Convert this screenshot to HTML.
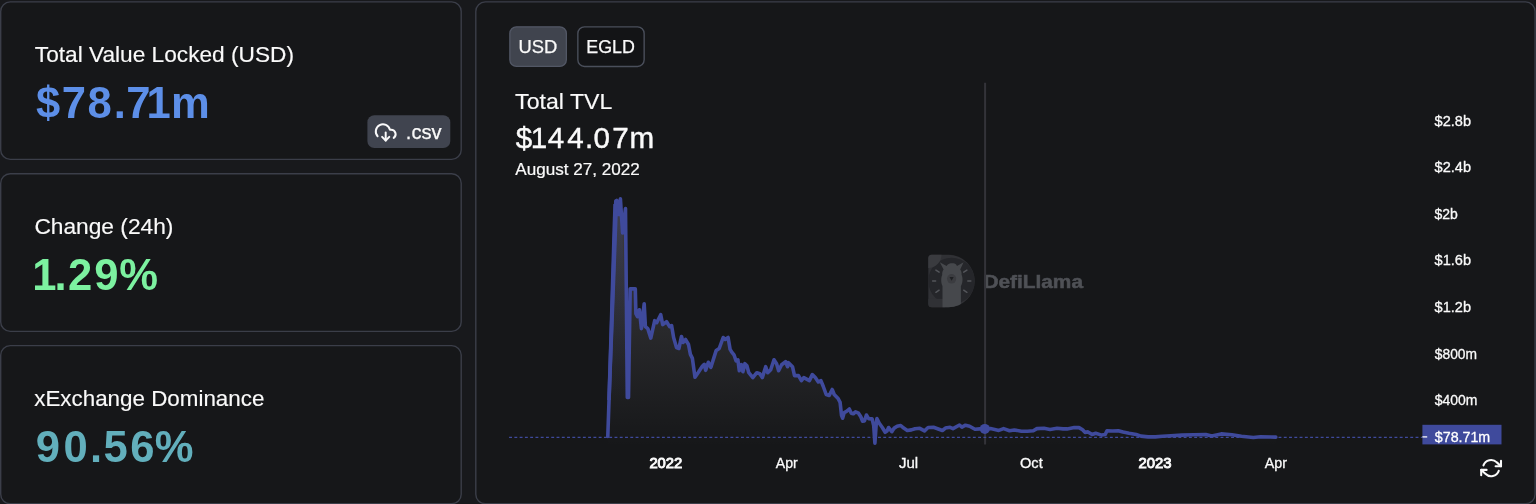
<!DOCTYPE html>
<html lang="en"><head><meta charset="utf-8"><title>xExchange - DefiLlama</title>
<style>
html,body{margin:0;padding:0;background:#18191c;}
body{width:1536px;height:504px;overflow:hidden;font-family:"Liberation Sans",Arial,sans-serif;}
svg{display:block;will-change:transform;}
</style></head><body>
<svg width="1536" height="504" viewBox="0 0 1536 504">
<defs>
<linearGradient id="ag" gradientUnits="userSpaceOnUse" x1="0" y1="83" x2="0" y2="447">
<stop offset="0" stop-color="#f7eefa" stop-opacity="0.26"/>
<stop offset="1" stop-color="#f7eefa" stop-opacity="0.0"/>
</linearGradient>
<linearGradient id="tg" gradientUnits="userSpaceOnUse" x1="0" y1="214" x2="0" y2="400"><stop offset="0" stop-color="#4452c8" stop-opacity="0.12"/><stop offset="1" stop-color="#4452c8" stop-opacity="0"/></linearGradient>
</defs>
<rect width="1536" height="504" fill="#18191c"/>
<rect x="0.7" y="1.9" width="460.5" height="157.5" rx="9.5" ry="9.5" fill="#161719" stroke="#3b3e49" stroke-width="1.4"/>
<rect x="0.7" y="173.7" width="460.5" height="157.7" rx="9.5" ry="9.5" fill="#161719" stroke="#3b3e49" stroke-width="1.4"/>
<rect x="0.7" y="345.6" width="460.5" height="158.1" rx="9.5" ry="9.5" fill="#161719" stroke="#3b3e49" stroke-width="1.4"/>
<rect x="475.8" y="1.9" width="1059.3" height="501.8" rx="9.5" ry="9.5" fill="#161719" stroke="#3b3e49" stroke-width="1.4"/>
<g font-family="Liberation Sans, Arial, sans-serif">
<rect x="367.4" y="115.2" width="82.9" height="32.9" rx="7" fill="#40444f"/>
<g transform="translate(374.9,121.6) scale(0.9)" fill="none" stroke="#fafafa" stroke-width="2.2" stroke-linecap="round" stroke-linejoin="round"><polyline points="8 17 12 21 16 17"/><line x1="12" y1="12" x2="12" y2="21"/><path d="M20.88 18.09A5 5 0 0 0 18 9h-1.26A8 8 0 1 0 3 16.29"/></g>
<rect x="509.85" y="26.85" width="56.5" height="39.6" rx="6.6" fill="#40444e" stroke="#525765" stroke-width="1.3"/>
<rect x="577.85" y="26.85" width="66.3" height="39.6" rx="6.6" fill="#131416" stroke="#4a4f5b" stroke-width="1.4"/>
<text x="34.8" y="61.5" font-size="21.8" font-weight="400" fill="#fafafa" textLength="259.2" lengthAdjust="spacingAndGlyphs" stroke="#fafafa" stroke-width="0.15">Total Value Locked (USD)</text>
<text x="35.9 61.8 87.55 113.86 126.2 146.51 170.88" y="117.7" font-size="43.6" font-weight="700" fill="#5d8fe8" >$78.71m</text>
<text x="34.4" y="233.7" font-size="21.8" font-weight="400" fill="#fafafa" textLength="139.0" lengthAdjust="spacingAndGlyphs" stroke="#fafafa" stroke-width="0.15">Change (24h)</text>
<text x="32.2 54.46 67.94 94.33 119.25" y="289.9" font-size="43.6" font-weight="700" fill="#7cf1a0" >1.29%</text>
<text x="34.2" y="405.9" font-size="21.8" font-weight="400" fill="#fafafa" textLength="230.2" lengthAdjust="spacingAndGlyphs" stroke="#fafafa" stroke-width="0.15">xExchange Dominance</text>
<text x="35.83 63.51 90.06 103.56 130.17 154.75" y="462.2" font-size="43.6" font-weight="700" fill="#62afbc" >90.56%</text>
<text x="405.8" y="138.6" font-size="19.6" font-weight="400" fill="#fafafa" textLength="35.8" lengthAdjust="spacingAndGlyphs" stroke="#fafafa" stroke-width="0.25">.csv</text>
<text x="518.6" y="53.3" font-size="18.7" font-weight="400" fill="#fafafa" textLength="38.8" lengthAdjust="spacingAndGlyphs" stroke="#fafafa" stroke-width="0.25">USD</text>
<text x="586.3" y="53.3" font-size="18.7" font-weight="400" fill="#fafafa" textLength="48.6" lengthAdjust="spacingAndGlyphs" stroke="#fafafa" stroke-width="0.25">EGLD</text>
<text x="515.1" y="109.0" font-size="22" font-weight="400" fill="#fafafa" textLength="97.2" lengthAdjust="spacingAndGlyphs" stroke="#fafafa" stroke-width="0.15">Total TVL</text>
<text x="515.85 530.69 547.79 567.16 584.91 593.62 612.3 629.61" y="147.8" font-size="29.6" font-weight="400" fill="#fafafa" stroke="#fafafa" stroke-width="0.4">$144.07m</text>
<text x="515.3" y="175.1" font-size="15.9" font-weight="400" fill="#fafafa" textLength="124.4" lengthAdjust="spacingAndGlyphs" stroke="#fafafa" stroke-width="0.2">August 27, 2022</text>
</g>
<g id="wm">
<clipPath id="dclip"><path d="M931.8,254.7 H948.5 A26.25,26.25 0 0 1 948.5,307.2 H931.8 A3.5,3.5 0 0 1 928.3,303.7 V258.2 A3.5,3.5 0 0 1 931.8,254.7 Z"/></clipPath>
<path d="M931.8,254.7 H948.5 A26.25,26.25 0 0 1 948.5,307.2 H931.8 A3.5,3.5 0 0 1 928.3,303.7 V258.2 A3.5,3.5 0 0 1 931.8,254.7 Z" fill="#303135"/>
<g clip-path="url(#dclip)">
<circle cx="951.6" cy="281" r="23.3" fill="#25262a"/>
<circle cx="928.3" cy="254.7" r="13.2" fill="#3a3b3f"/>
<rect x="927" y="298.8" width="18" height="10" fill="#303135"/>
<path d="M942.5,308 V286 C940.8,283 940.9,277.5 942.2,275 C942,272.5 942.6,271 943.6,269.6 L939.8,262.3 L946.6,266 C948,263.6 950,263.2 952.2,263.2 C954.4,263.2 956,263.6 957,266 L963.6,262.3 L960.2,269.6 C961.2,271 961.8,272.5 961.6,275 C962.9,277.5 963,283 960.9,286 V308 Z" fill="#46484c"/>
<ellipse cx="951.6" cy="278.8" rx="4.6" ry="4.8" fill="#3b3c40"/>
<path d="M949.5,277 H953.7 L951.6,280.8 Z" fill="#1f2023"/>
<g stroke="#53555a" stroke-width="1.5" stroke-linecap="round">
<line x1="935.9" y1="270.1" x2="939.1" y2="272.2"/><line x1="932.6" y1="280.9" x2="935.6" y2="280.9"/><line x1="935.9" y1="292.3" x2="939.1" y2="290.2"/>
<line x1="966.9" y1="270.1" x2="963.7" y2="272.2"/><line x1="970.8" y1="280.9" x2="967.8" y2="280.9"/><line x1="966.9" y1="292.3" x2="963.7" y2="290.2"/>
</g>
</g>
<text x="983.4" y="288.4" font-family="Liberation Sans, Arial, sans-serif" font-weight="700" font-size="17.7" fill="#4f5156" stroke="#4f5156" stroke-width="0.5" textLength="99.6" lengthAdjust="spacingAndGlyphs">DefiLlama</text>
</g>
<line x1="985.1" y1="82.7" x2="985.1" y2="444.6" stroke="#333339" stroke-width="2"/>
<path d="M607.8,436.5 L615.8,201.0 L616.6,200.5 L617.3,214.5 L618.3,201.5 L619.5,214.5 L620.4,198.8 L622.6,233.0 L625.5,208.5 L627.3,397.5 L628.5,397.5 L630.2,288.9 L635.3,288.9 L635.9,313.7 L637.5,316.7 L639.4,309.8 L641.4,328.6 L644.2,303.8 L645.4,326.6 L647.8,328.6 L650.8,338.1 L654.7,320.7 L656.7,322.7 L660.7,314.7 L662.7,324.6 L666.6,321.7 L669.6,326.6 L671.6,325.6 L673.6,337.5 L676.5,347.5 L678.9,348.5 L681.5,336.5 L683.1,342.5 L685.5,339.5 L688.5,344.5 L690.4,354.4 L692.4,358.4 L695.0,377.2 L698.4,372.3 L702.3,366.3 L704.3,364.3 L705.7,370.3 L708.3,362.3 L710.9,367.3 L716.2,350.4 L719.2,348.5 L723.2,337.5 L725.2,339.5 L728.1,337.5 L730.1,349.4 L731.6,351.8 L734.0,354.8 L736.0,360.8 L737.9,359.8 L739.3,370.7 L741.5,364.7 L742.9,371.7 L744.9,363.7 L746.9,365.7 L748.8,372.7 L752.8,377.6 L756.8,372.7 L759.8,373.7 L762.3,377.6 L765.7,366.7 L767.7,372.7 L770.7,369.7 L774.0,359.8 L776.6,363.7 L778.6,370.7 L781.6,364.7 L785.6,361.7 L787.5,366.7 L788.5,362.7 L792.5,366.7 L794.5,375.6 L798.5,375.6 L801.4,380.6 L803.8,377.6 L809.4,380.6 L812.3,374.6 L815.3,377.6 L818.3,382.0 L820.9,380.6 L823.3,386.5 L826.2,394.5 L829.2,395.5 L832.2,389.5 L834.2,394.5 L838.1,398.5 L840.1,402.4 L841.5,415.3 L842.6,418.2 L844.2,412.6 L846.5,411.4 L849.3,409.0 L851.3,413.2 L853.3,413.8 L855.5,411.8 L858.5,413.2 L860.8,416.8 L862.6,421.2 L864.4,421.0 L866.4,415.0 L868.6,418.6 L872.1,418.9 L873.7,425.7 L874.9,443.2 L876.1,425.7 L876.9,418.6 L879.3,423.3 L882.3,427.5 L885.2,432.3 L887.0,431.1 L888.6,427.5 L891.8,431.7 L894.2,428.1 L897.1,426.3 L900.7,425.5 L903.7,428.1 L907.3,430.5 L911.4,429.9 L915.0,428.7 L919.8,428.3 L924.5,430.8 L928.1,427.5 L933.5,427.3 L937.6,428.7 L942.4,430.5 L945.4,428.1 L950.1,427.3 L953.0,428.6 L959.5,425.0 L961.9,427.1 L965.5,425.2 L969.6,426.2 L975.0,429.2 L979.8,428.9 L984.8,428.9 L990.5,428.6 L998.8,430.4 L1003.6,428.6 L1009.5,430.7 L1014.3,430.0 L1021.4,431.2 L1027.4,431.2 L1033.3,430.7 L1036.9,428.6 L1044.0,428.3 L1050.0,429.5 L1057.1,428.3 L1063.1,428.9 L1067.1,428.9 L1074.3,427.6 L1079.0,427.6 L1082.6,429.8 L1085.0,432.4 L1088.0,431.9 L1092.1,434.5 L1095.7,433.3 L1101.7,435.1 L1105.2,434.5 L1107.0,430.7 L1112.4,431.0 L1118.3,430.7 L1123.1,432.1 L1129.0,433.3 L1136.2,434.5 L1141.0,436.1 L1148.1,436.9 L1155.2,436.9 L1162.4,436.3 L1170.7,435.7 L1181.9,435.1 L1193.8,434.8 L1205.7,434.5 L1211.7,436.0 L1221.2,433.9 L1231.9,434.8 L1241.4,436.3 L1253.3,437.5 L1260.5,436.7 L1275.8,437.1 L1275.8,447 L607.8,447 Z" fill="url(#ag)"/>
<path d="M616.5,214 L622,214 L627.3,398 L627.3,436 L608.5,436 Z" fill="url(#tg)"/>
<line x1="509.1" y1="437.4" x2="1422.4" y2="437.4" stroke="#3f4a9c" stroke-width="1.3" stroke-dasharray="2.9 2.37"/>
<path d="M607.8,436.5 L615.8,201.0 L616.6,200.5 L617.3,214.5 L618.3,201.5 L619.5,214.5 L620.4,198.8 L622.6,233.0 L625.5,208.5 L627.3,397.5 L628.5,397.5 L630.2,288.9 L635.3,288.9 L635.9,313.7 L637.5,316.7 L639.4,309.8 L641.4,328.6 L644.2,303.8 L645.4,326.6 L647.8,328.6 L650.8,338.1 L654.7,320.7 L656.7,322.7 L660.7,314.7 L662.7,324.6 L666.6,321.7 L669.6,326.6 L671.6,325.6 L673.6,337.5 L676.5,347.5 L678.9,348.5 L681.5,336.5 L683.1,342.5 L685.5,339.5 L688.5,344.5 L690.4,354.4 L692.4,358.4 L695.0,377.2 L698.4,372.3 L702.3,366.3 L704.3,364.3 L705.7,370.3 L708.3,362.3 L710.9,367.3 L716.2,350.4 L719.2,348.5 L723.2,337.5 L725.2,339.5 L728.1,337.5 L730.1,349.4 L731.6,351.8 L734.0,354.8 L736.0,360.8 L737.9,359.8 L739.3,370.7 L741.5,364.7 L742.9,371.7 L744.9,363.7 L746.9,365.7 L748.8,372.7 L752.8,377.6 L756.8,372.7 L759.8,373.7 L762.3,377.6 L765.7,366.7 L767.7,372.7 L770.7,369.7 L774.0,359.8 L776.6,363.7 L778.6,370.7 L781.6,364.7 L785.6,361.7 L787.5,366.7 L788.5,362.7 L792.5,366.7 L794.5,375.6 L798.5,375.6 L801.4,380.6 L803.8,377.6 L809.4,380.6 L812.3,374.6 L815.3,377.6 L818.3,382.0 L820.9,380.6 L823.3,386.5 L826.2,394.5 L829.2,395.5 L832.2,389.5 L834.2,394.5 L838.1,398.5 L840.1,402.4 L841.5,415.3 L842.6,418.2 L844.2,412.6 L846.5,411.4 L849.3,409.0 L851.3,413.2 L853.3,413.8 L855.5,411.8 L858.5,413.2 L860.8,416.8 L862.6,421.2 L864.4,421.0 L866.4,415.0 L868.6,418.6 L872.1,418.9 L873.7,425.7 L874.9,443.2 L876.1,425.7 L876.9,418.6 L879.3,423.3 L882.3,427.5 L885.2,432.3 L887.0,431.1 L888.6,427.5 L891.8,431.7 L894.2,428.1 L897.1,426.3 L900.7,425.5 L903.7,428.1 L907.3,430.5 L911.4,429.9 L915.0,428.7 L919.8,428.3 L924.5,430.8 L928.1,427.5 L933.5,427.3 L937.6,428.7 L942.4,430.5 L945.4,428.1 L950.1,427.3 L953.0,428.6 L959.5,425.0 L961.9,427.1 L965.5,425.2 L969.6,426.2 L975.0,429.2 L979.8,428.9 L984.8,428.9 L990.5,428.6 L998.8,430.4 L1003.6,428.6 L1009.5,430.7 L1014.3,430.0 L1021.4,431.2 L1027.4,431.2 L1033.3,430.7 L1036.9,428.6 L1044.0,428.3 L1050.0,429.5 L1057.1,428.3 L1063.1,428.9 L1067.1,428.9 L1074.3,427.6 L1079.0,427.6 L1082.6,429.8 L1085.0,432.4 L1088.0,431.9 L1092.1,434.5 L1095.7,433.3 L1101.7,435.1 L1105.2,434.5 L1107.0,430.7 L1112.4,431.0 L1118.3,430.7 L1123.1,432.1 L1129.0,433.3 L1136.2,434.5 L1141.0,436.1 L1148.1,436.9 L1155.2,436.9 L1162.4,436.3 L1170.7,435.7 L1181.9,435.1 L1193.8,434.8 L1205.7,434.5 L1211.7,436.0 L1221.2,433.9 L1231.9,434.8 L1241.4,436.3 L1253.3,437.5 L1260.5,436.7 L1275.8,437.1" fill="none" stroke="#3f4a9c" stroke-width="3.6" stroke-linejoin="round" stroke-linecap="round"/>
<path d="M613.3,204.0 L612.4,230.0 L611.5,260.0 L610.3,300.0 L608.8,350.0 L607.2,400.0 L610.8,400.0 L612.7,350.0 L614.6,300.0 L616.1,260.0 L617.2,230.0 L618.1,204.0 Z" fill="#3f4a9c"/>
<circle cx="984.8" cy="428.9" r="5" fill="#3f4a9c"/>
<g font-family="Liberation Sans, Arial, sans-serif">
<rect x="1422.4" y="424.8" width="79.1" height="19.6" fill="#3f4a9c"/>
<line x1="1422.4" y1="436.9" x2="1427.2" y2="436.9" stroke="#fafafa" stroke-width="1.3"/>
<text x="1434.6" y="125.6" font-size="14.9" font-weight="400" fill="#fafafa" textLength="36.4" lengthAdjust="spacingAndGlyphs" stroke="#fafafa" stroke-width="0.3">$2.8b</text>
<text x="1434.6" y="172.3" font-size="14.9" font-weight="400" fill="#fafafa" textLength="36.4" lengthAdjust="spacingAndGlyphs" stroke="#fafafa" stroke-width="0.3">$2.4b</text>
<text x="1434.6" y="219.3" font-size="14.9" font-weight="400" fill="#fafafa" textLength="23.3" lengthAdjust="spacingAndGlyphs" stroke="#fafafa" stroke-width="0.3">$2b</text>
<text x="1434.6" y="265.4" font-size="14.9" font-weight="400" fill="#fafafa" textLength="36.4" lengthAdjust="spacingAndGlyphs" stroke="#fafafa" stroke-width="0.3">$1.6b</text>
<text x="1434.6" y="311.9" font-size="14.9" font-weight="400" fill="#fafafa" textLength="36.4" lengthAdjust="spacingAndGlyphs" stroke="#fafafa" stroke-width="0.3">$1.2b</text>
<text x="1434.8" y="358.9" font-size="14.9" font-weight="400" fill="#fafafa" textLength="42.2" lengthAdjust="spacingAndGlyphs" stroke="#fafafa" stroke-width="0.3">$800m</text>
<text x="1434.8" y="404.9" font-size="14.9" font-weight="400" fill="#fafafa" textLength="42.7" lengthAdjust="spacingAndGlyphs" stroke="#fafafa" stroke-width="0.3">$400m</text>
<text x="1434.8" y="441.5" font-size="14.9" font-weight="400" fill="#ffffff" textLength="55.4" lengthAdjust="spacingAndGlyphs" stroke="#ffffff" stroke-width="0.3">$78.71m</text>
<text x="649.4" y="468.3" font-size="14.9" font-weight="400" fill="#fafafa" textLength="32.9" lengthAdjust="spacingAndGlyphs" stroke="#fafafa" stroke-width="0.95">2022</text>
<text x="775.8" y="468.3" font-size="14.2" font-weight="400" fill="#fafafa" textLength="21.9" lengthAdjust="spacingAndGlyphs" stroke="#fafafa" stroke-width="0.3">Apr</text>
<text x="899.0" y="468.3" font-size="14.2" font-weight="400" fill="#fafafa" textLength="19.2" lengthAdjust="spacingAndGlyphs" stroke="#fafafa" stroke-width="0.3">Jul</text>
<text x="1020.0" y="468.3" font-size="14.2" font-weight="400" fill="#fafafa" textLength="22.7" lengthAdjust="spacingAndGlyphs" stroke="#fafafa" stroke-width="0.3">Oct</text>
<text x="1138.6" y="468.3" font-size="14.9" font-weight="400" fill="#fafafa" textLength="33.0" lengthAdjust="spacingAndGlyphs" stroke="#fafafa" stroke-width="0.95">2023</text>
<text x="1264.7" y="468.3" font-size="14.2" font-weight="400" fill="#fafafa" textLength="22.2" lengthAdjust="spacingAndGlyphs" stroke="#fafafa" stroke-width="0.3">Apr</text>
</g>
<g transform="translate(1480.3,457.3) scale(0.9)" fill="none" stroke="#fafafa" stroke-width="2.3" stroke-linecap="round" stroke-linejoin="round"><polyline points="23 4 23 10 17 10"/><polyline points="1 20 1 14 7 14"/><path d="M3.51 9a9 9 0 0 1 14.85-3.36L23 10M1 14l4.64 4.36A9 9 0 0 0 20.49 15"/></g>
</svg>
</body></html>
